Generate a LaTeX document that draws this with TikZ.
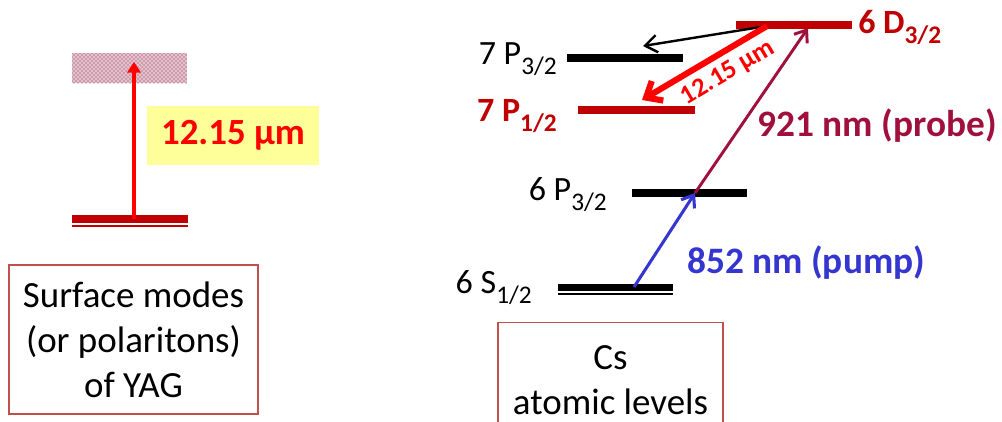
\documentclass[tikz,border=0pt]{standalone}
\usepackage{fontspec}
\setmainfont{Carlito}
\usetikzlibrary{arrows.meta,patterns}
\definecolor{dred}{HTML}{C00000}
\definecolor{bred}{HTML}{FF0000}
\definecolor{pblue}{HTML}{3535D0}
\definecolor{probec}{HTML}{A0103C}
\definecolor{boxc}{HTML}{C0504D}
\definecolor{yel}{HTML}{FFFF99}
\definecolor{dotc}{HTML}{8C2848}
\definecolor{pinkb}{HTML}{E2C0CC}
\newcommand\sbs[1]{\raisebox{-0.3em}{\fontsize{19}{21}\selectfont #1}}
\begin{document}
\begin{tikzpicture}[x=0.75pt,y=-0.75pt,
  lvl/.style={line width=5.3pt},
  thinlvl/.style={line width=1.1pt},
  lbl/.style={font=\fontsize{25.5}{29}\selectfont, inner sep=0pt},
  boxtext/.style={draw=boxc, line width=1pt, align=center, font=\fontsize{27.7}{33.75}\selectfont},
  barb/.style={-{Straight Barb[length=8pt,width=12pt]}},
]
\useasboundingbox (0,0) rectangle (1002,421);

% ---------- left: YAG ----------
\fill[pinkb] (72,53) rectangle (187,83);
\fill[pattern=crosshatch dots, pattern color=dotc] (72,53) rectangle (187,83);
\coordinate (bandtop) at (134,62);
\coordinate (gl) at (72,219);
\coordinate (gr) at (188,219);
\coordinate (ground) at (134,219);
\draw[dred, lvl] (gl) -- (gr);
\draw[dred, thinlvl] (72,226) -- (188,226);
\draw[bred, line width=3pt, -{Triangle[length=8pt,width=10pt]}] (ground) -- (bandtop);
\node[fill=yel, minimum width=129pt, minimum height=44.25pt, inner sep=0pt,
      text=bred, font=\bfseries\fontsize{27.7}{32}\selectfont] (yb) at (233,135.5) {12.15 µm};

\node[boxtext, minimum width=186.75pt, minimum height=111.75pt] (yag) at (133.5,339.5)
  {Surface modes\\(or polaritons)\\of YAG};

% ---------- right: Cs levels ----------
\coordinate (d6l) at (736,25);  \coordinate (d6r) at (852,25);
\coordinate (p73l) at (567,58); \coordinate (p73r) at (683,58);
\coordinate (p71l) at (578,110);\coordinate (p71r) at (695,110);
\coordinate (p63l) at (632,193);\coordinate (p63r) at (747,193);
\coordinate (s6l) at (558,287.5);\coordinate (s6r) at (673,287.5);

\draw[dred, lvl] (d6l) -- (d6r);
\draw[black, lvl] (p73l) -- (p73r);
\draw[dred, lvl] (p71l) -- (p71r);
\draw[black, lvl] (p63l) -- (p63r);
\draw[black, lvl] (s6l) -- (s6r);
\draw[black, thinlvl] (558,294) -- (673,294);

\node[lbl, anchor=base west, text=dred, font=\bfseries\fontsize{25.5}{29}\selectfont] (ld6) at (858,33) {6 D\sbs{3/2}};
\node[lbl, anchor=base east] (lp73) at (557,64) {7 P\sbs{3/2}};
\node[lbl, anchor=base east, text=dred, font=\bfseries\fontsize{25.5}{29}\selectfont] (lp71) at (557,121) {7 P\sbs{1/2}};
\node[lbl, anchor=base east] (lp63) at (607,200) {6 P\sbs{3/2}};
\node[lbl, anchor=base east] (ls6) at (532,293) {6 S\sbs{1/2}};

% transitions
\coordinate (pumpA) at (634,287);
\coordinate (mid) at (695,193);
\coordinate (probeB) at (808,28);
\coordinate (dsrc) at (767,26);
\coordinate (blkB) at (643,46);
\coordinate (redB) at (642,100);

\draw[pblue, line width=2.3pt, barb] (pumpA) -- (mid);
\draw[probec, line width=2.2pt, barb] (mid) -- (probeB);
\draw[black, line width=1.8pt, -{Straight Barb[length=9pt,width=13pt]}] (dsrc) -- (blkB);
\draw[bred, line width=4.6pt, -{Straight Barb[length=10pt,width=17pt]}] (dsrc) -- (redB);

\node[lbl, anchor=base west, text=pblue, font=\bfseries\fontsize{28}{32}\selectfont] (lpump) at (687,273) {852 nm (pump)};
\node[lbl, anchor=base east, text=probec, font=\bfseries\fontsize{28}{32}\selectfont] (lprobe) at (997,136) {921 nm (probe)};
\node[lbl, text=bred, rotate=30.6, font=\bfseries\fontsize{20}{23}\selectfont] (lir) at (728,73) {12.15 µm};

% Cs box
\node[boxtext, anchor=north, minimum width=168.75pt, inner ysep=17pt] (cs) at (610.5,322)
  {Cs\\atomic levels};
\end{tikzpicture}
\end{document}
